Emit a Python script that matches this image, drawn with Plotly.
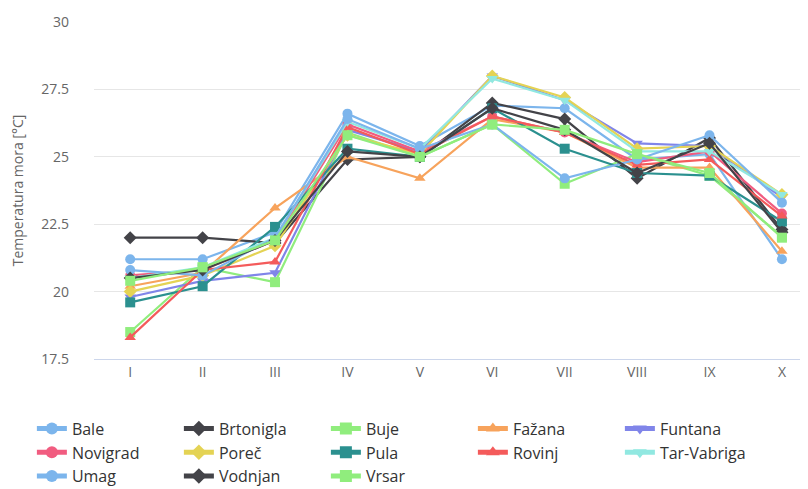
import plotly.graph_objects as go

# months (Roman numerals) on the category axis
months = ["I", "II", "III", "IV", "V", "VI", "VII", "VIII", "IX", "X"]

bale = [21.2, 21.2, 22.2, 26.6, 25.4, 26.9, 26.8, 24.9, 25.1, 21.2]
brtonigla = [22.0, 22.0, 21.8, 24.9, 25.0, 27.0, 26.4, 24.2, 25.7, 22.3]
buje = [18.5, 20.9, 20.35, 25.9, 25.0, 26.2, 24.0, 25.1, 24.3, 22.05]
fazana = [20.2, 20.7, 23.1, 25.0, 24.2, 26.4, 25.9, 24.6, 24.6, 21.5]
funtana = [19.8, 20.4, 20.7, 26.0, 25.2, 28.0, 27.1, 25.5, 25.4, 23.5]
novigrad = [20.6, 20.8, 21.9, 26.2, 25.2, 26.5, 25.9, 24.8, 25.2, 22.9]
porec = [20.0, 20.6, 21.7, 25.8, 25.1, 28.0, 27.2, 25.3, 25.4, 23.6]
pula = [19.6, 20.2, 22.4, 25.3, 25.0, 26.8, 25.3, 24.4, 24.3, 22.6]
rovinj = [18.3, 20.8, 21.1, 26.1, 25.1, 26.5, 25.9, 24.7, 24.9, 22.8]
tar_vabriga = [20.5, 20.9, 22.0, 26.3, 25.3, 27.9, 27.1, 25.2, 25.2, 23.6]
umag = [20.8, 20.6, 22.0, 26.4, 25.3, 26.2, 24.2, 24.9, 25.8, 23.3]
vodnjan = [20.5, 20.8, 21.9, 25.2, 25.0, 26.8, 26.0, 24.4, 25.5, 22.2]
vrsar = [20.4, 20.9, 21.9, 25.8, 25.0, 26.2, 26.0, 25.1, 24.4, 22.0]

series = [
    ("Bale", bale, "#7cb5ec", "circle"),
    ("Brtonigla", brtonigla, "#434348", "diamond"),
    ("Buje", buje, "#90ed7d", "square"),
    ("Fažana", fazana, "#f7a35c", "triangle-up"),
    ("Funtana", funtana, "#8085e9", "triangle-down"),
    ("Novigrad", novigrad, "#f15c80", "circle"),
    ("Poreč", porec, "#e4d354", "diamond"),
    ("Pula", pula, "#2b908f", "square"),
    ("Rovinj", rovinj, "#f45b5b", "triangle-up"),
    ("Tar-Vabriga", tar_vabriga, "#91e8e1", "triangle-down"),
    ("Umag", umag, "#7cb5ec", "circle"),
    ("Vodnjan", vodnjan, "#434348", "diamond"),
    ("Vrsar", vrsar, "#90ed7d", "square"),
]

fig = go.Figure()
for name, vals, color, sym in series:
    fig.add_trace(go.Scatter(
        x=months, y=vals, name=name, mode="lines+markers",
        line=dict(color=color, width=2.2),
        marker=dict(color=color, symbol=sym, size=10),
    ))

# page body has an 8px margin, so the figure is 8px smaller each way
fig.update_layout(
    width=800, height=481,
    margin=dict(l=86, r=0, t=14, b=130, autoexpand=False),
    plot_bgcolor="white", paper_bgcolor="white",
    font=dict(family="Open Sans", color="#666666", size=14),
    legend=dict(
        orientation="h", x=-0.087, y=-0.156, xanchor="left", yanchor="top",
        entrywidth=102, font=dict(size=16, color="#333333"),
        tracegroupgap=0, itemsizing="constant",
    ),
)
fig.update_xaxes(
    range=[-0.5, 9.36], showgrid=False, showline=True, linecolor="#ccd6eb",
    linewidth=1, ticks="", tickfont=dict(size=14, color="#666666"),
)
fig.update_yaxes(
    range=[17.5, 30], tickvals=[17.5, 20, 22.5, 25, 27.5, 30],
    ticktext=["17.5", "20", "22.5", "25", "27.5", "30"],
    gridcolor="#e6e6e6", gridwidth=1, zeroline=False,
    ticklabelstandoff=24,
    title=dict(text="Temperatura mora [°C]", font=dict(size=14, color="#666666"),
               standoff=18),
)

fig.write_html("out.html")
